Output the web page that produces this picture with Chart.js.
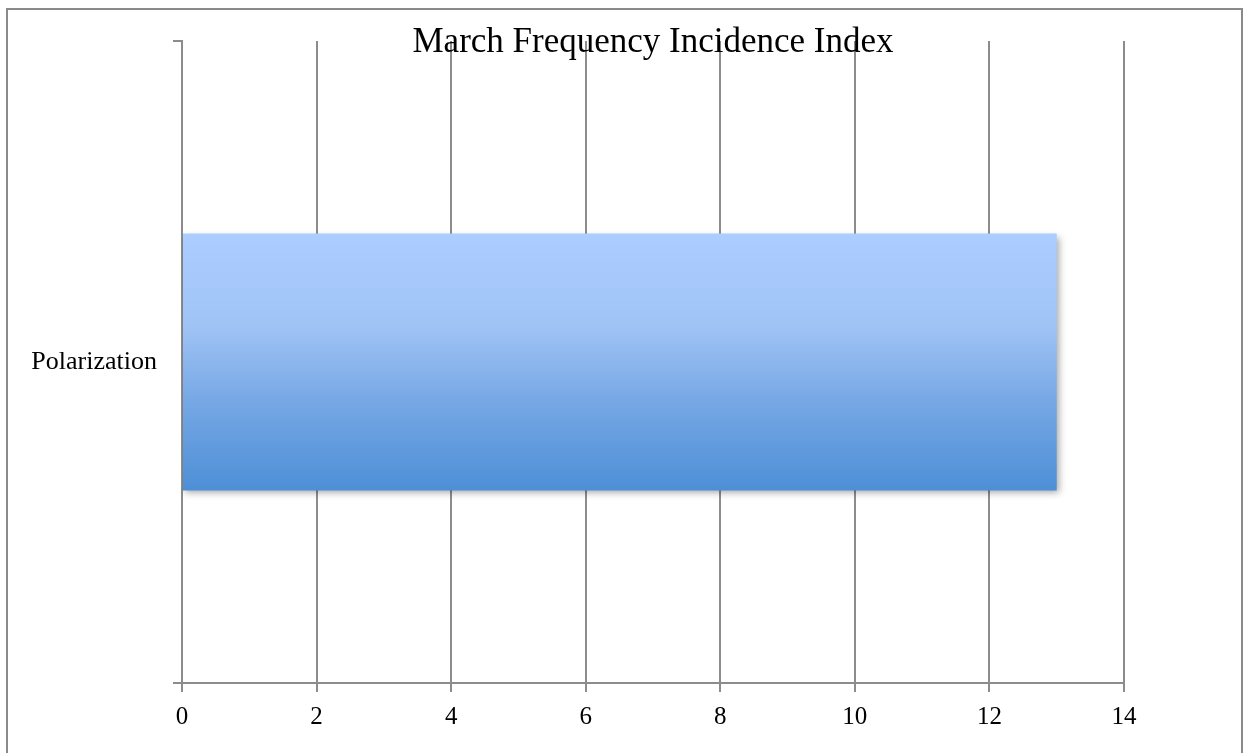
<!DOCTYPE html>
<html>
<head>
<meta charset="utf-8">
<script src="https://cdn.jsdelivr.net/npm/chart.js@4/dist/chart.umd.min.js"></script>
<style>
  html, body { margin: 0; padding: 0; background: #fff; }
  #wrap { position: relative; width: 1246px; height: 753px; overflow: hidden; }
  #frame {
    position: absolute; left: 6px; top: 8px; width: 1237px; height: 800px;
    border: 2px solid #8a8a8a; box-sizing: border-box; pointer-events: none;
  }
  canvas { position: absolute; left: 0; top: 0; }
</style>
</head>
<body>
<div id="wrap">
  <canvas id="freqChart" width="1246" height="753"></canvas>
  <div id="frame"></div>
</div>
<script>
  // chart data
  const categories = ['Polarization'];
  const incidence = [13];
  const xMin = 0;
  const xMax = 14;
  const xStep = 2;
  const chartTitle = 'March Frequency Incidence Index';

  const gridColor = '#8c8c8c';
  const serif = "'Liberation Serif', 'DejaVu Serif', serif";

  // soft drop shadow under the bar, like the office chart
  const barShadow = {
    id: 'barShadow',
    beforeDatasetsDraw(chart) {
      const ctx = chart.ctx;
      ctx.save();
      ctx.shadowColor = 'rgba(0, 0, 0, 0.35)';
      ctx.shadowBlur = 7;
      ctx.shadowOffsetX = 2;
      ctx.shadowOffsetY = 3;
    },
    afterDatasetsDraw(chart) {
      chart.ctx.restore();
    }
  };

  // vertical gradient across the bar (light on top, darker at the bottom)
  function barGradient(context) {
    const chart = context.chart;
    const area = chart.chartArea;
    if (!area) return '#8fb5ea';
    const yScale = chart.scales.y;
    const meta = chart.getDatasetMeta(0);
    const bar = meta.data[context.dataIndex];
    let top = area.top, bottom = area.bottom;
    if (bar && bar.height) {
      top = bar.y - bar.height / 2;
      bottom = bar.y + bar.height / 2;
    } else if (yScale) {
      const c = yScale.getPixelForValue(context.dataIndex);
      const h = yScale.height * 0.4;
      top = c - h / 2;
      bottom = c + h / 2;
    }
    const g = chart.ctx.createLinearGradient(0, top, 0, bottom);
    g.addColorStop(0, '#abcdff');
    g.addColorStop(0.35, '#a1c4f6');
    g.addColorStop(0.65, '#77a8e5');
    g.addColorStop(1, '#4d8fd6');
    return g;
  }

  const ctx = document.getElementById('freqChart').getContext('2d');
  new Chart(ctx, {
    type: 'bar',
    data: {
      labels: categories,
      datasets: [{
        data: incidence,
        backgroundColor: barGradient,
        borderWidth: 0,
        barPercentage: 0.4,
        categoryPercentage: 1.0
      }]
    },
    plugins: [barShadow],
    options: {
      indexAxis: 'y',
      responsive: false,
      animation: false,
      devicePixelRatio: 1,
      layout: {
        padding: { left: 0, right: 122, top: 0, bottom: 0 }
      },
      plugins: {
        legend: { display: false },
        tooltip: { enabled: false },
        title: {
          display: true,
          text: chartTitle,
          fullSize: false,
          color: '#000',
          font: { family: serif, size: 35, weight: 'normal' },
          padding: { top: 22, bottom: -23 }
        }
      },
      scales: {
        x: {
          min: xMin,
          max: xMax,
          afterFit: (scale) => { scale.height = 70; },
          ticks: {
            stepSize: xStep,
            color: '#000',
            padding: 10,
            font: { family: serif, size: 25 }
          },
          grid: {
            color: gridColor,
            lineWidth: 2,
            drawOnChartArea: true,
            drawTicks: true,
            tickLength: 9
          },
          border: { color: gridColor, width: 2 }
        },
        y: {
          afterFit: (scale) => { scale.width = 182; },
          ticks: {
            color: '#000',
            padding: 16,
            font: { family: serif, size: 26 }
          },
          grid: {
            color: gridColor,
            lineWidth: 2,
            drawOnChartArea: false,
            drawTicks: true,
            tickLength: 9
          },
          border: { color: gridColor, width: 2 }
        }
      }
    }
  });
</script>
</body>
</html>
